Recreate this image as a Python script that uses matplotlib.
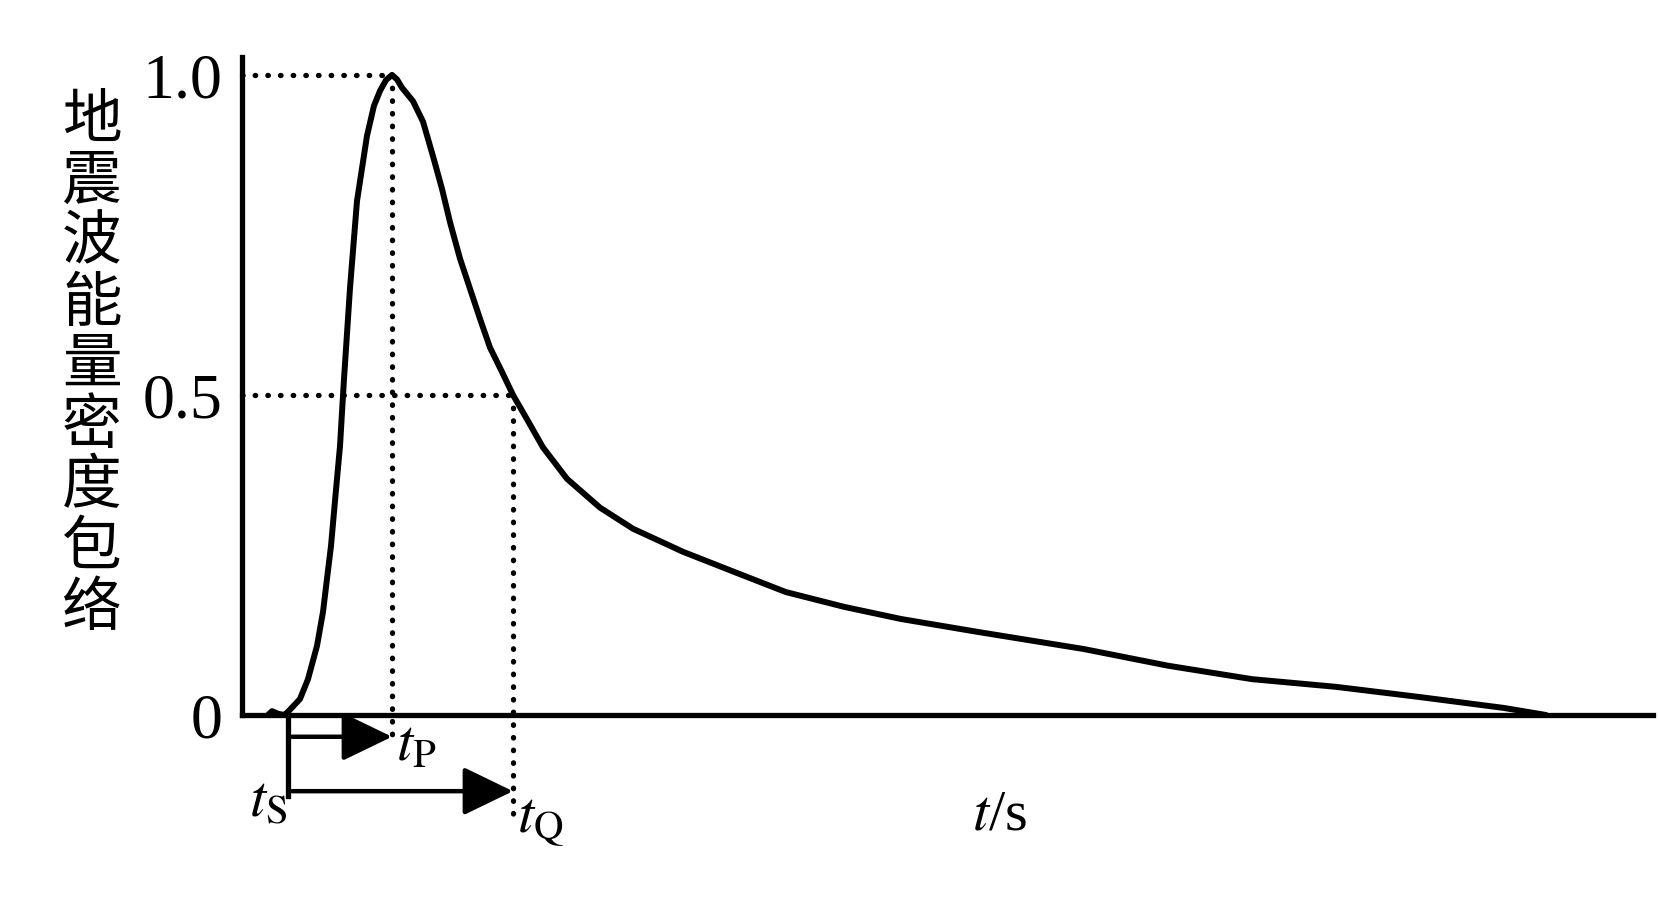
import matplotlib.pyplot as plt

plt.rcParams['font.family'] = ['Liberation Serif', 'DejaVu Serif']
plt.rcParams['mathtext.fontset'] = 'stix'

# envelope (t in arbitrary seconds, tS = 0)
t = [-0.20, -0.16, -0.10, -0.04, 0.00, 0.12, 0.20, 0.29, 0.35, 0.39, 0.43, 0.46,
     0.49, 0.52, 0.54, 0.56, 0.62, 0.69, 0.79, 0.86, 0.92, 0.98, 1.04, 1.09, 1.14,
     1.25, 1.35, 1.45, 1.54, 1.62, 1.72, 1.82, 1.92, 2.02, 2.14, 2.25, 2.39, 2.55,
     2.79, 3.12, 3.45, 3.95, 4.52, 4.98, 5.56, 6.13, 6.89, 7.96, 8.80, 9.64,
     10.48, 11.32, 12.16, 12.58]
energy = [0.0, 0.006, 0.002, 0.0, 0.005, 0.025, 0.056, 0.108, 0.161, 0.213, 0.264, 0.317,
          0.369, 0.420, 0.473, 0.525, 0.667, 0.803, 0.905, 0.952, 0.975, 0.992, 1.0, 0.993,
          0.980, 0.959, 0.927, 0.873, 0.822, 0.770, 0.713, 0.666, 0.619, 0.574, 0.536, 0.50,
          0.462, 0.418, 0.369, 0.324, 0.291, 0.255, 0.220, 0.192, 0.169, 0.150, 0.130, 0.103,
          0.077, 0.056, 0.044, 0.028, 0.011, 0.0]

t_s, t_p, t_q = 0.0, 1.04, 2.25
ytick_vals = [0, 0.5, 1.0]
ytick_text = ['0', '0.5', '1.0']
ylabel = '地震波能量密度包络'

fig = plt.figure(figsize=(16.59, 9.04), dpi=100)
ax = fig.add_axes([242 / 1659, 188 / 904, 1411 / 1659, 658 / 904])
ax.set_xlim(-0.46, 13.65)
ax.set_ylim(0, 1.028)

for side in ['top', 'right']:
    ax.spines[side].set_visible(False)
for side in ['left', 'bottom']:
    ax.spines[side].set_linewidth(3.8)

ax.set_xticks([])
ax.set_yticks(ytick_vals)
ax.set_yticklabels(ytick_text, fontsize=46)
ax.tick_params(axis='y', length=0, pad=14)

ax.plot(t, energy, color='black', lw=4.3, solid_capstyle='round',
        solid_joinstyle='round', clip_on=False)

dot = dict(color='black', lw=3.8, linestyle=(0, (0.1, 2.3)),
           dash_capstyle='round', clip_on=False)
ax.plot([-0.46, t_p], [1.0, 1.0], **dot)
ax.plot([-0.46, t_q], [0.5, 0.5], **dot)
ax.plot([t_p, t_p], [1.0, -0.04], **dot)
ax.plot([t_q, t_q], [0.5, -0.155], **dot)

# tS marker and the two arrows
ax.plot([t_s, t_s], [0, -0.127], color='black', lw=3.8, clip_on=False)
arrow = dict(arrowstyle='-|>,head_length=3.1,head_width=1.5', color='black',
             lw=3.2, shrinkA=0, shrinkB=0, mutation_scale=10)
ax.annotate('', xy=(t_p, -0.034), xytext=(t_s + 0.04, -0.034),
            arrowprops=arrow, annotation_clip=False)
ax.annotate('', xy=(t_q, -0.119), xytext=(t_s + 0.04, -0.119),
            arrowprops=arrow, annotation_clip=False)

ax.text(t_p + 0.04, -0.069, r'$t_{\mathrm{P}}$', fontsize=42, ha='left', va='baseline')
ax.text(-0.39, -0.158, r'$t_{\mathrm{S}}$', fontsize=42, ha='left', va='baseline')
ax.text(t_q + 0.04, -0.181, r'$t_{\mathrm{Q}}$', fontsize=42, ha='left', va='baseline')
ax.text(7.12, -0.156, r'$t$/s', fontsize=42, ha='center', va='center')

fig.text(92 / 1659, 1 - 365 / 904, '\n'.join(ylabel), fontsize=43,
         family=['Noto Sans CJK SC', 'DejaVu Sans'], ha='center', va='center',
         linespacing=1.0)

fig.savefig('out.png', dpi=100, facecolor='white')
